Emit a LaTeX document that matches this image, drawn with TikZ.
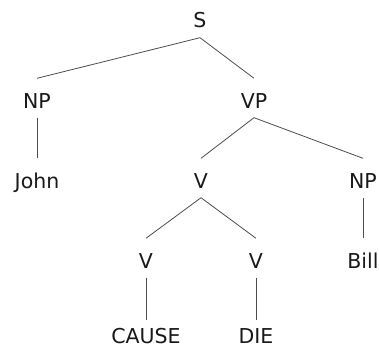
\documentclass[tikz,border=0pt]{standalone}
\usepackage{fontspec}
\setmainfont{DejaVu Sans}
\begin{document}
\begin{tikzpicture}[x=1pt,y=-1pt,
  lab/.style={inner sep=0pt, font=\fontsize{20.5}{24}\selectfont, text height=20pt, text depth=0pt, minimum height=39pt, text=black!90},
  leaf/.style={lab, minimum height=0pt, text height=23pt},
  br/.style={draw=black!70, line width=0.8pt}]
\useasboundingbox (0,0) rectangle (379,350);
\node[lab] (S) at (200,18) {S};
\node[lab] (NP) at (37,98) {NP};
\node[lab] (VP) at (254,98) {VP};
\node[lab] (John) at (37,178) {John};
\node[lab] (V) at (201,178) {V};
\node[lab] (NPb) at (363,178) {NP};
\node[lab] (Va) at (146,258) {V};
\node[lab] (Vb) at (256,258) {V};
\node[lab] (Bill) at (363,258) {Bill};
\node[leaf] (CAUSE) at (146,331.5) {CAUSE};
\node[leaf] (DIE) at (256,331.5) {DIE};
\draw[br] (S.south) -- (NP.north);
\draw[br] (S.south) -- (VP.north);
\draw[br] (NP.south) -- (John.north);
\draw[br] (VP.south) -- (V.north);
\draw[br] (VP.south) -- (NPb.north);
\draw[br] (V.south) -- (Va.north);
\draw[br] (V.south) -- (Vb.north);
\draw[br] (NPb.south) -- (Bill.north);
\draw[br] (Va.south) -- (CAUSE.north);
\draw[br] (Vb.south) -- (DIE.north);
\end{tikzpicture}
\end{document}
